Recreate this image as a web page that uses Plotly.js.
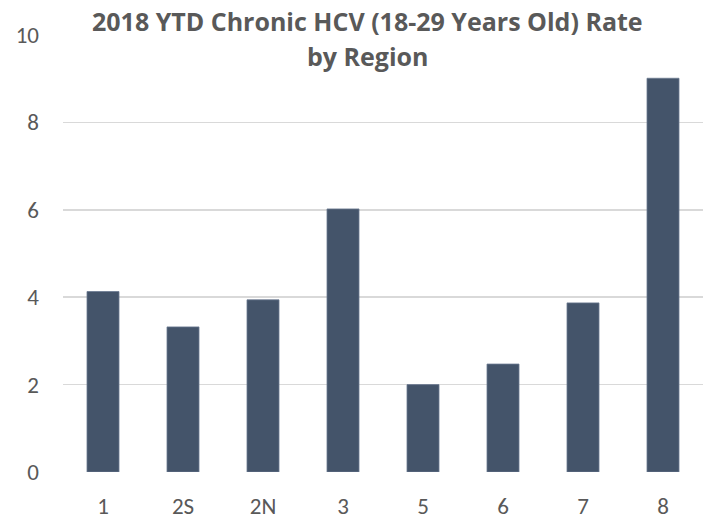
<!DOCTYPE html>
<html><head><meta charset="utf-8">
<script src="https://cdn.plot.ly/plotly-3.0.1.min.js"></script>
<style>html,body{margin:0;padding:0;background:#fff}#c{width:726px;height:519px}</style>
</head><body><div id="c"></div>
<script>
const regions = ['1','2S','2N','3','5','6','7','8'];
const rates = [4.13, 3.32, 3.94, 6.02, 2.0, 2.47, 3.87, 9.01];
const titleLine1 = '2018 YTD Chronic HCV (18-29 Years Old) Rate';
const titleLine2 = 'by Region';
const FONT = 'Carlito, Calibri, Lato, sans-serif';
const TFONT = 'Open Sans, sans-serif';

const trace = {
  type: 'bar', x: regions, y: rates,
  marker: {color: '#44546A', line: {color: '#6b7a90', width: 0.8}},
  hoverinfo: 'x+y'
};
const layout = {
  width: 726, height: 519,
  margin: {l: 63, r: 23, t: 35, b: 47},
  paper_bgcolor: '#fff', plot_bgcolor: '#fff',
  bargap: 0.6, showlegend: false,
  font: {family: FONT, color: '#595959'},
  xaxis: {type: 'category', showgrid: false, zeroline: false, showline: false,
          ticks: '', tickfont: {size: 23, color: '#595959', family: FONT}, ticklabelstandoff: 18},
  yaxis: {range: [0, 10], dtick: 2, showgrid: true, gridcolor: '#d9d9d9', gridwidth: 1.5,
          zeroline: false, showline: false, ticks: '',
          tickfont: {size: 23, color: '#595959', family: FONT}, ticklabelstandoff: 23},
  annotations: [
    {text: '<b>' + titleLine1 + '</b>', xref: 'paper', yref: 'paper', x: 0.475, y: 1.032,
     xanchor: 'center', yanchor: 'middle', showarrow: false,
     font: {size: 25, color: '#595959', family: TFONT}},
    {text: '<b>' + titleLine2 + '</b>', xref: 'paper', yref: 'paper', x: 0.475, y: 0.952,
     xanchor: 'center', yanchor: 'middle', showarrow: false,
     font: {size: 25, color: '#595959', family: TFONT}}
  ]
};
Plotly.newPlot('c', [trace], layout, {displayModeBar: false, staticPlot: true});
</script></body></html>
